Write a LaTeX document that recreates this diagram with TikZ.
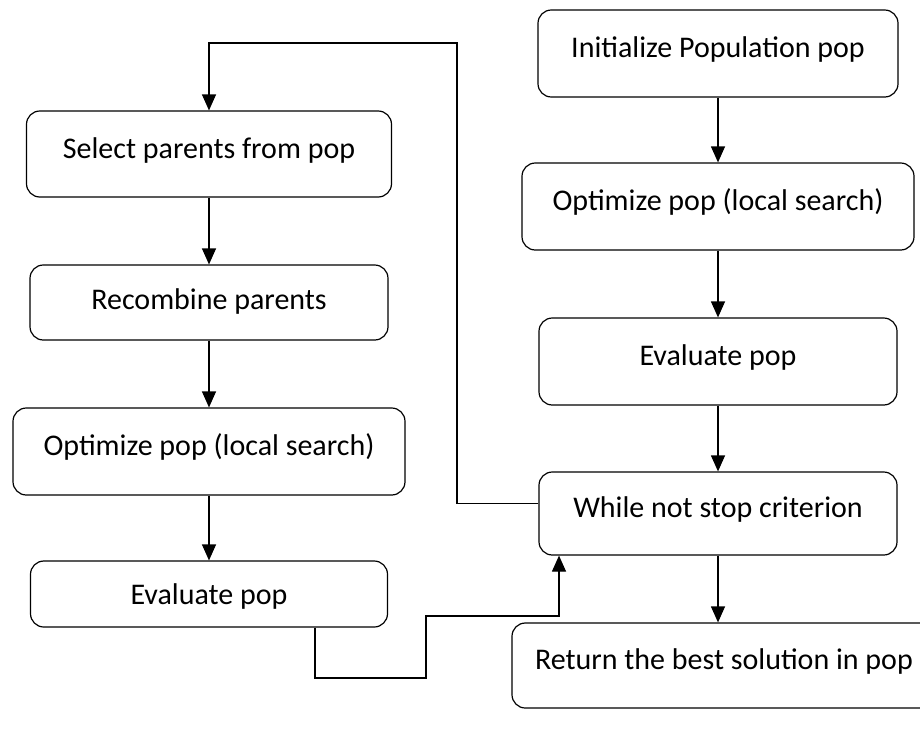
\documentclass[tikz,border=0pt]{standalone}
\usepackage{fontspec}
\setmainfont{Carlito}
\usetikzlibrary{arrows.meta}

\tikzset{every picture/.style={line width=0.9pt}}
\tikzset{
  flowbox/.style={draw, rounded corners=10pt, inner sep=0.75pt, text height=16pt, text depth=10pt, font=\fontsize{22.5}{27}\selectfont},
  flowarr/.style={-{Triangle[length=12pt,width=10.5pt]}}
}

\begin{document}
\begin{tikzpicture}[x=0.75pt,y=0.75pt,yscale=-1,xscale=1]
%set diagram area 920 x 747, the last box runs off the right side
\clip (0,0) rectangle (920,747);

%Rounded Rect [right column]
\draw (718,53.5) node [flowbox, minimum width=270pt, minimum height=65.25pt] (init) {Initialize Population pop};
%Rounded Rect
\draw (718,206.5) node [flowbox, minimum width=294pt, minimum height=65.25pt] (optR) {Optimize pop (local search)};
%Rounded Rect
\draw (718,361.5) node [flowbox, minimum width=268.5pt, minimum height=65.25pt] (evalR) {Evaluate pop};
%Rounded Rect
\draw (718,513.5) node [flowbox, minimum width=268.5pt, minimum height=62.25pt] (while) {While not stop criterion};
%Rounded Rect
\draw (724,665.5) node [flowbox, minimum width=318pt, minimum height=63.75pt] (ret) {Return the best solution in pop};

%Rounded Rect [left column]
\draw (209,154) node [flowbox, minimum width=273.75pt, minimum height=64.5pt] (select) {Select parents from pop};
%Rounded Rect
\draw (209,302.5) node [flowbox, text depth=5pt, minimum width=268.5pt, minimum height=56.25pt] (recomb) {Recombine parents};
%Rounded Rect
\draw (209,451.5) node [flowbox, minimum width=294pt, minimum height=65.25pt] (optL) {Optimize pop (local search)};
%Rounded Rect
\draw (209,594) node [flowbox, text depth=0pt, minimum width=267.75pt, minimum height=49.5pt] (evalL) {Evaluate pop};

%Corner points of the two loops
\coordinate (fbk) at (457,43);
\coordinate (lpA) at (426,678);
\coordinate (lpB) at (426,616);

%Straight Lines
\draw [flowarr] (init) -- (optR);
\draw [flowarr] (optR) -- (evalR);
\draw [flowarr] (evalR) -- (while);
\draw [flowarr] (while) -- (while.south |- ret.north);
%Straight Lines
\draw [flowarr] (select) -- (recomb);
\draw [flowarr] (recomb) -- (optL);
\draw [flowarr] (optL) -- (evalL);
%Back to selection
\draw [flowarr] ([yshift=-7.5pt]while.west) -| (fbk) -| (select.north);
%Back to the stop test
\draw [flowarr] ([xshift=79.5pt]evalL.south) |- (lpA) -- (lpB) -| ([xshift=-119.25pt]while.south);

\end{tikzpicture}
\end{document}
